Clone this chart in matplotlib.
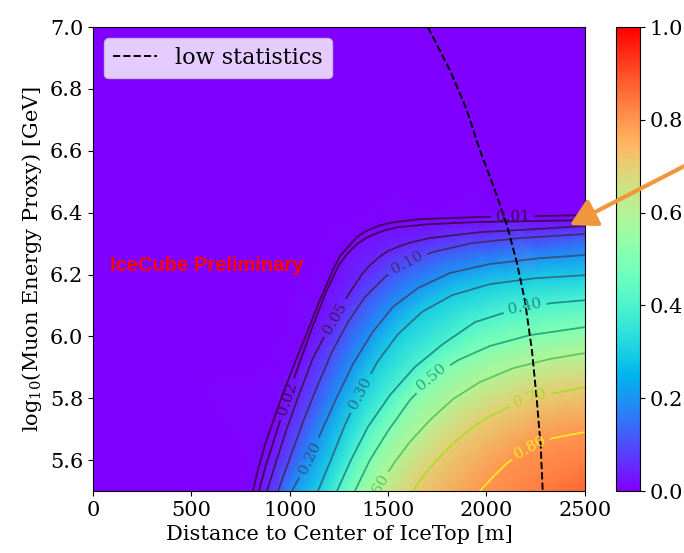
import matplotlib
matplotlib.use('Agg')
import matplotlib.pyplot as plt
import matplotlib.tri as mtri
from matplotlib.contour import ContourSet
import numpy as np

plt.rcParams['font.family'] = 'DejaVu Serif'
plt.rcParams['mathtext.fontset'] = 'dejavuserif'

levels = [0.01, 0.02, 0.05, 0.10, 0.20, 0.30, 0.40, 0.50, 0.60, 0.70, 0.80]

# contour paths: distance [m] / log10(E)
c01_x = [813, 838, 874, 935, 1011, 1087, 1153, 1219, 1255, 1306, 1342, 1377, 1423, 1463,
         1519, 1661, 1966, 2250, 2500]
c01_y = [5.500, 5.568, 5.649, 5.762, 5.891, 6.011, 6.117, 6.214, 6.259, 6.296, 6.321, 6.337,
         6.350, 6.360, 6.368, 6.379, 6.386, 6.389, 6.392]
c02_x = [843, 879, 920, 976, 1042, 1113, 1184, 1250, 1296, 1341, 1387, 1433, 1488, 1550, 1712,
         1966, 2250, 2500]
c02_y = [5.500, 5.584, 5.665, 5.778, 5.901, 6.027, 6.143, 6.231, 6.270, 6.298, 6.318, 6.331, 6.344,
         6.353, 6.363, 6.370, 6.373, 6.376]
c05_x = [884, 930, 986, 1052, 1118, 1179, 1230, 1296, 1367, 1407, 1448, 1499, 1560, 1621, 1712,
         1966, 2250, 2500]
c05_y = [5.500, 5.594, 5.704, 5.820, 5.930, 6.004, 6.059, 6.133, 6.201, 6.230, 6.253, 6.276, 6.292,
         6.305, 6.318, 6.337, 6.347, 6.357]
c10_x = [940, 1001, 1067, 1138, 1214, 1296, 1382, 1484, 1595, 1728, 1931, 2170, 2500]
c10_y = [5.500, 5.607, 5.723, 5.836, 5.949, 6.046, 6.127, 6.192, 6.240, 6.273, 6.302, 6.318, 6.331]
c20_x = [1011, 1103, 1164, 1240, 1321, 1418, 1524, 1651, 1814, 2017, 2271, 2500]
c20_y = [5.500, 5.607, 5.697, 5.804, 5.910, 6.011, 6.095, 6.156, 6.205, 6.234, 6.253, 6.263]
c30_x = [1143, 1209, 1280, 1357, 1448, 1550, 1672, 1824, 2017, 2246, 2500]
c30_y = [5.500, 5.600, 5.713, 5.817, 5.920, 6.007, 6.079, 6.133, 6.169, 6.188, 6.198]
c40_x = [1240, 1311, 1397, 1509, 1636, 1778, 1941, 2068, 2195, 2337, 2500]
c40_y = [5.500, 5.600, 5.707, 5.810, 5.901, 5.975, 6.046, 6.072, 6.095, 6.108, 6.117]
c50_x = [1331, 1407, 1499, 1611, 1722, 1855, 2017, 2220, 2500]
c50_y = [5.500, 5.600, 5.694, 5.794, 5.868, 5.923, 5.969, 6.004, 6.030]
c60_x = [1443, 1473, 1534, 1611, 1712, 1829, 1966, 2134, 2322, 2500]
c60_y = [5.500, 5.535, 5.594, 5.659, 5.729, 5.797, 5.852, 5.897, 5.927, 5.946]
c70_x = [1626, 1687, 1763, 1839, 1931, 2017, 2104, 2220, 2373, 2500]
c70_y = [5.500, 5.555, 5.610, 5.659, 5.707, 5.742, 5.768, 5.801, 5.820, 5.836]
c80_x = [1966, 2032, 2104, 2220, 2337, 2500]
c80_y = [5.500, 5.545, 5.590, 5.642, 5.671, 5.691]

# empty region (value 0) and the bright corner
zero_x = [0, 500, 1000, 1500, 2000, 2500, 0, 500, 1000, 1500, 2000, 2500,
          0, 500, 1000, 1500, 2000, 2500, 1400, 1700, 2000, 2250, 2500, 1200,
          0, 500, 1000, 1100, 0, 500, 850, 950, 0, 500, 750, 780]
zero_y = [7.0, 7.0, 7.0, 7.0, 7.0, 7.0, 6.7, 6.7, 6.7, 6.7, 6.7, 6.7,
          6.5, 6.5, 6.5, 6.5, 6.5, 6.5, 6.40, 6.41, 6.41, 6.415, 6.42, 6.36,
          6.2, 6.2, 6.2, 6.2, 5.9, 5.9, 5.9, 5.9, 5.5, 5.5, 5.5, 5.6]
peak_x = [2300, 2500, 2500]
peak_y = [5.5, 5.5, 5.6]
peak_z = [0.84, 0.87, 0.83]

# low statistics boundary
stat_x = [1702, 1814, 1900, 1966, 2043, 2104, 2154, 2195, 2231, 2256, 2276, 2286]
stat_y = [7.0, 6.861, 6.732, 6.603, 6.473, 6.360, 6.240, 6.117, 5.956, 5.794, 5.642, 5.5]

label_pos = [(2134, 6.389), (976, 5.80), (1230, 6.06), (1595, 6.24), (1103, 5.607),
             (1357, 5.817), (2195, 6.095), (1722, 5.868), (1440, 5.503),
             (2220, 5.801), (2220, 5.642)]

paths = [(c01_x, c01_y), (c02_x, c02_y), (c05_x, c05_y), (c10_x, c10_y),
         (c20_x, c20_y), (c30_x, c30_y), (c40_x, c40_y), (c50_x, c50_y),
         (c60_x, c60_y), (c70_x, c70_y), (c80_x, c80_y)]

xs = list(zero_x) + list(peak_x)
ys = list(zero_y) + list(peak_y)
zs = [0.0] * len(zero_x) + list(peak_z)
for lev, (px, py) in zip(levels, paths):
    xs += px
    ys += py
    zs += [lev] * len(px)
xs = np.array(xs, float)
ys = np.array(ys, float)
zs = np.array(zs, float)

fig = plt.figure(figsize=(6.84, 5.53), dpi=100)
ax = fig.add_axes([0.136, 0.112, 0.719, 0.839])
cax = fig.add_axes([0.9006, 0.112, 0.035, 0.839])

# triangulate in screen-like units so triangles are not squashed
tri_n = mtri.Triangulation(xs / 2500 * 492, (ys - 5.5) / 1.5 * 464)
tri = mtri.Triangulation(xs, ys, triangles=tri_n.triangles)
img = ax.tripcolor(tri, zs, shading='gouraud', cmap='rainbow', vmin=0, vmax=1)

ax.set_xlim(0, 2500)
ax.set_ylim(5.5, 7.0)

segs = [[np.column_stack([px, py])] for px, py in paths]
cs = ContourSet(ax, levels, segs, cmap='viridis', linewidths=1.3)
labels = ax.clabel(cs, inline=True, fontsize=11, fmt='%.2f', manual=label_pos)
for t in labels:
    t.set_clip_on(True)
    t.set_clip_path(ax.patch)

ax.plot(stat_x, stat_y, 'k--', lw=1.4, label='low statistics')
ax.text(86, 6.23, 'IceCube Preliminary', color='red', fontweight='bold',
        fontsize=14.5, family='Liberation Sans', va='center')

ax.set_xticks([0, 500, 1000, 1500, 2000, 2500])
ax.set_yticks([5.6, 5.8, 6.0, 6.2, 6.4, 6.6, 6.8, 7.0])
ax.tick_params(labelsize=15)
ax.set_xlabel('Distance to Center of IceTop [m]', fontsize=15, labelpad=4)
ax.set_ylabel('log$_{10}$(Muon Energy Proxy) [GeV]', fontsize=15, labelpad=4)
ax.legend(loc='upper left', fontsize=16, framealpha=0.8, handlelength=2.0)

cb = fig.colorbar(img, cax=cax, ticks=[0, 0.2, 0.4, 0.6, 0.8, 1.0])
cb.ax.set_yticklabels(['0.0', '0.2', '0.4', '0.6', '0.8', '1.0'])
cb.ax.tick_params(labelsize=15)

cax.annotate('', xy=(2424, 6.36), xycoords=ax.transData,
             xytext=(1.023, 0.714), textcoords='figure fraction',
             arrowprops=dict(arrowstyle='-|>,head_length=0.8,head_width=0.45',
                             color='#f0963c', lw=3, mutation_scale=20,
                             shrinkA=0, shrinkB=0),
             annotation_clip=False)

fig.savefig('out.png', dpi=100)
